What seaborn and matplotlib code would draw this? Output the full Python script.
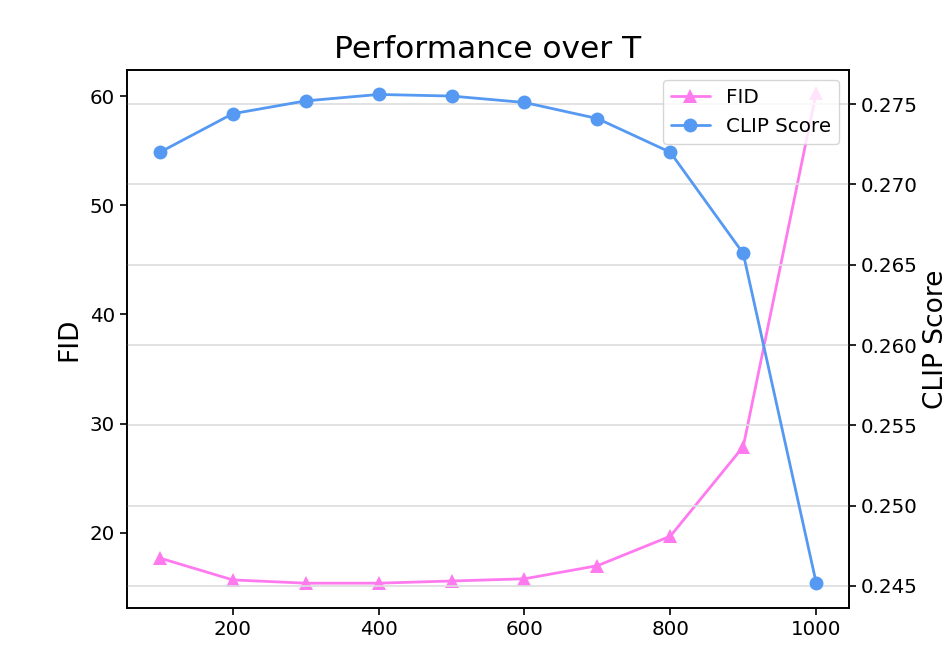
import matplotlib
matplotlib.use("Agg")
import matplotlib.pyplot as plt
import seaborn as sns
import numpy as np
import pandas as pd

# --- datos ---
T = [100, 200, 300, 400, 500, 600, 700, 800, 900, 1000]
fid = [17.7, 15.7, 15.4, 15.4, 15.6, 15.8, 17.0, 19.7, 27.9, 60.3]
clip_score = [0.2720, 0.2744, 0.2752, 0.2756, 0.2755, 0.2751, 0.2741, 0.2720, 0.2657, 0.2452]

df = pd.DataFrame({"T": T, "FID": fid, "CLIP Score": clip_score})

COLOR_FID = "#FF7AEE"
COLOR_CLIP = "#5599F2"

sns.set_style("ticks", rc={"text.color": "black", "axes.labelcolor": "black",
                           "xtick.color": "black", "ytick.color": "black"})
plt.rcParams["font.family"] = ["DejaVu Sans"]

fig = plt.figure(figsize=(9.52, 6.67), dpi=100)
ax = fig.add_axes([0.1334, 0.0885, 0.7584, 0.8065])
ax2 = ax.twinx()

sns.lineplot(data=df, x="T", y="FID", ax=ax, color=COLOR_FID, marker="^",
             markersize=10, markeredgewidth=0, linewidth=2.0, label="FID", legend=False)
sns.lineplot(data=df, x="T", y="CLIP Score", ax=ax2, color=COLOR_CLIP, marker="o",
             markersize=10, markeredgewidth=0, linewidth=2.0, label="CLIP Score", legend=False)

ax.set_ylim(13.13, 62.38)
ax2.set_ylim(0.24363, 0.27712)
ax.set_xlim(55, 1045)
ax.set_xticks([200, 400, 600, 800, 1000])
ax.set_yticks([20, 30, 40, 50, 60])
ax2.set_yticks([0.245, 0.250, 0.255, 0.260, 0.265, 0.270, 0.275])
ax2.yaxis.set_major_formatter(matplotlib.ticker.FormatStrFormatter("%.3f"))

ax2.grid(axis="y", color="#dddddd", linewidth=1.2)
ax2.set_axisbelow(True)

for a in (ax, ax2):
    a.tick_params(labelsize=14.3, length=5, width=1.2, colors="black")
    for s in a.spines.values():
        s.set_visible(True)
        s.set_linewidth(1.2)
        s.set_color("black")

ax.set_xlabel("")
ax.set_ylabel("FID", fontsize=19, labelpad=5)
ax2.set_ylabel("CLIP Score", fontsize=19, labelpad=4)
ax.set_title("Performance over T", fontsize=22.5, pad=9)

h1, l1 = ax.get_legend_handles_labels()
h2, l2 = ax2.get_legend_handles_labels()
ax2.legend(h1 + h2, l1 + l2, loc="upper right", fontsize=14.3)

fig.savefig("out.png", dpi=100)
